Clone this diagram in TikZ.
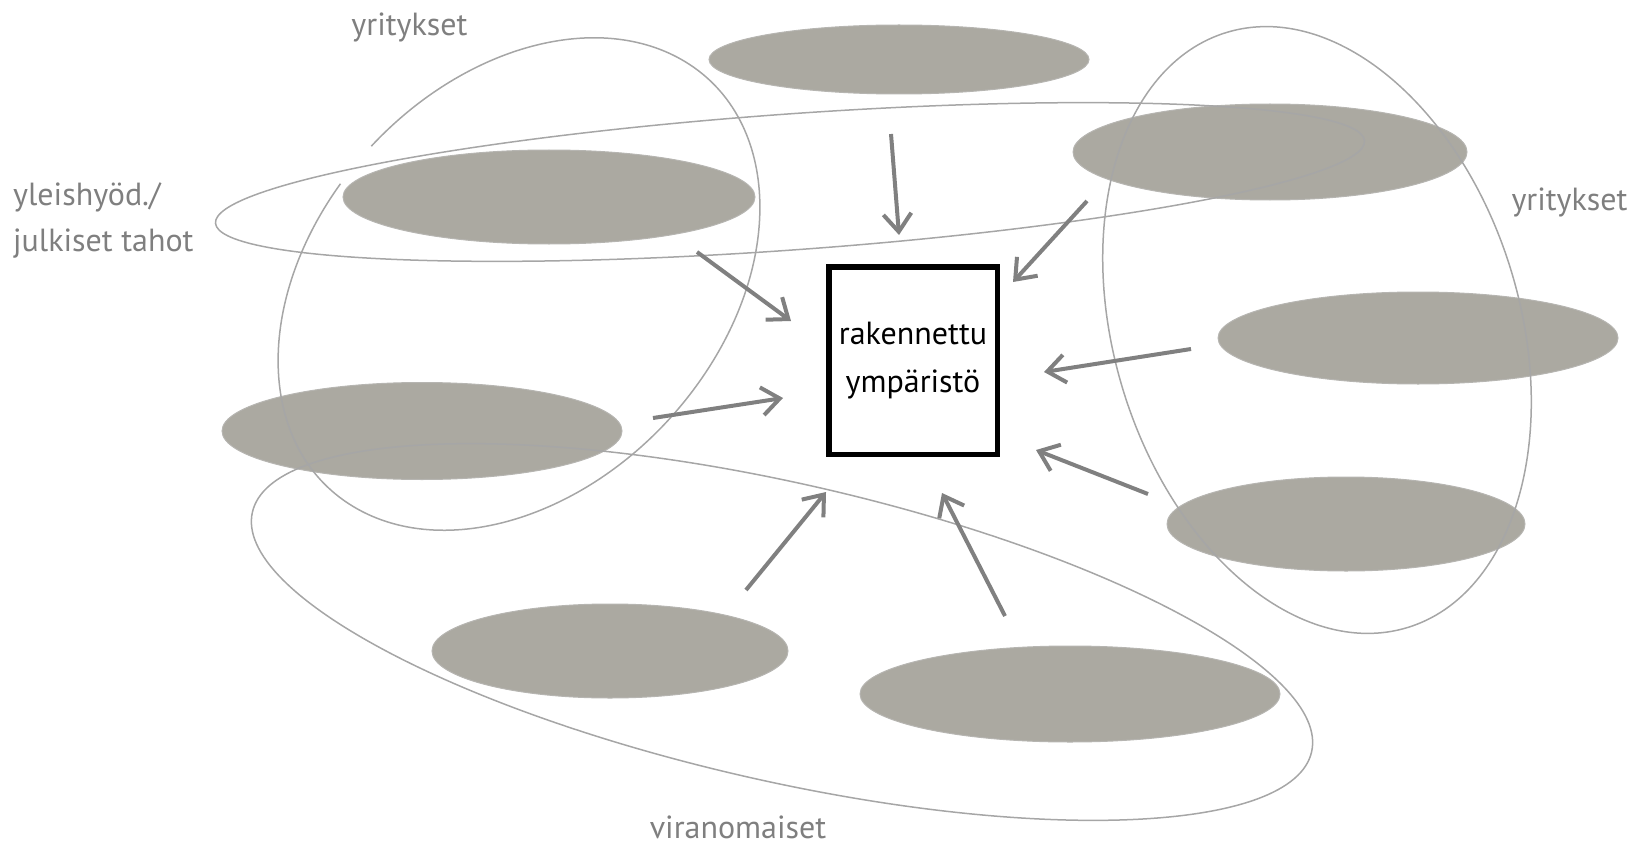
\documentclass[tikz,border=0pt]{standalone}
\usepackage{fontspec}
\setmainfont{PT Sans}
\usepackage{tikz}
\usetikzlibrary{arrows.meta,shapes.geometric}

\definecolor{actorfill}{RGB}{171,169,161}
\definecolor{actoredge}{RGB}{182,181,177}
\definecolor{groupline}{RGB}{166,166,166}
\definecolor{arrowgray}{RGB}{128,128,128}
\definecolor{labelgray}{RGB}{127,127,127}

\begin{document}
\begin{tikzpicture}[x=1pt, y=1pt,
  actor/.style={ellipse, fill=actorfill, draw=actoredge, line width=1pt,
                inner sep=0pt},
  group/.style={draw=groupline, line width=1.5pt},
  arr/.style={-{Straight Barb[length=18pt,width=28pt]}, draw=arrowgray,
              line width=4pt},
  lab/.style={text=labelgray, inner sep=0pt,
              font=\fontsize{32}{46}\selectfont},
  core/.style={draw, line width=5.5pt, inner sep=0pt, align=center,
               font=\fontsize{32}{48}\selectfont}]
\useasboundingbox (0,0) rectangle (1645,-845);
% actors
\node[actor, minimum width=380pt, minimum height=69pt] (top) at (899,-59.5) {};
\node[actor, minimum width=394pt, minimum height=96pt] (topright) at (1270,-152) {};
\node[actor, minimum width=412pt, minimum height=94pt] (leftup) at (549,-197) {};
\node[actor, minimum width=400pt, minimum height=92pt] (rightmid) at (1418,-338) {};
\node[actor, minimum width=400pt, minimum height=97pt] (leftmid) at (422,-431) {};
\node[actor, minimum width=358pt, minimum height=94pt] (rightlow) at (1346,-524) {};
\node[actor, minimum width=356pt, minimum height=94pt] (botleft) at (610,-651) {};
\node[actor, minimum width=420pt, minimum height=96pt] (botright) at (1070,-694) {};
% groups
\draw[group, shift={(519,-284)}, rotate=47]
  (100:279pt and 202pt) arc[start angle=100, end angle=450,
                            x radius=279pt, y radius=202pt];
\draw[group, shift={(1317,-330)}, rotate=-73.1]
  (0,0) ellipse[x radius=311pt, y radius=203pt];
\draw[group, shift={(782,-632)}, rotate=-12.75]
  (0,0) ellipse[x radius=543pt, y radius=149pt];
\draw[group, shift={(790,-182)}, rotate=4.1]
  (0,0) ellipse[x radius=576pt, y radius=68pt];
% labels
\node[lab, anchor=base] (firmsnw) at (409.5,-36) {yritykset};
\node[lab, anchor=base west, align=left] (public) at (13,-251)
  {yleishyöd./\\julkiset tahot};
\node[lab, anchor=base] (firmse) at (1569.5,-210) {yritykset};
\node[lab, anchor=base] (officials) at (738,-838) {viranomaiset};
% built environment
\node[core, minimum width=168.5pt, minimum height=187.5pt] (built)
  at (913,-360.5) {rakennettu\\ympäristö};
% arrows
\coordinate (s1) at (891,-134);  \coordinate (t1) at (899,-235);
\coordinate (s2) at (1087,-201); \coordinate (t2) at (1013,-282);
\coordinate (s3) at (697,-252);  \coordinate (t3) at (791,-321);
\coordinate (s4) at (653,-418);  \coordinate (t4) at (783,-398);
\coordinate (s5) at (1191,-349); \coordinate (t5) at (1044,-372);
\coordinate (s6) at (1148,-494); \coordinate (t6) at (1036,-450);
\coordinate (s7) at (746,-590);  \coordinate (t7) at (826,-492);
\coordinate (s8) at (1005,-616); \coordinate (t8) at (942,-493);
\foreach \i in {1,...,8}
  \draw[arr] (s\i) -- (t\i);
\end{tikzpicture}
\end{document}
